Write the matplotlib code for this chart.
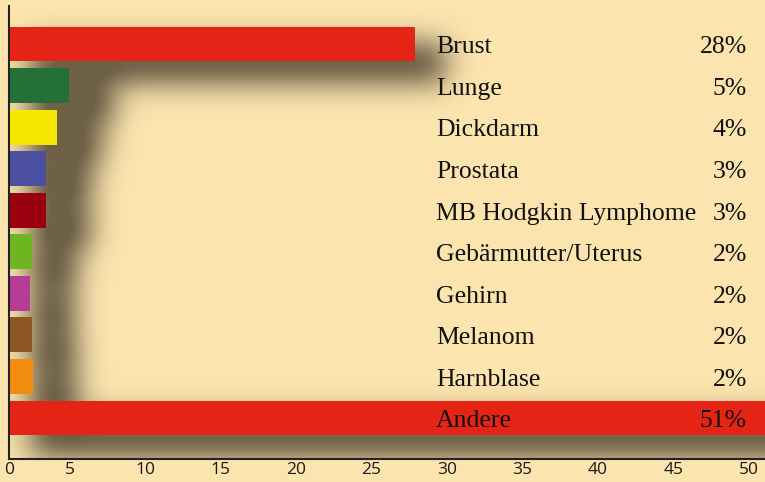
import numpy as np
import matplotlib
matplotlib.use("Agg")
import matplotlib.pyplot as plt
from matplotlib.transforms import blended_transform_factory

categories = ["Brust", "Lunge", "Dickdarm", "Prostata", "MB Hodgkin Lymphome",
              "Gebärmutter/Uterus", "Gehirn", "Melanom", "Harnblase", "Andere"]
values = [27.85, 4.95, 4.15, 3.4, 3.4, 2.5, 2.35, 2.5, 2.6, 51.2]
pct_labels = ["28%", "5%", "4%", "3%", "3%", "2%", "2%", "2%", "2%", "51%"]
colors = ["#E52416", "#257037", "#F5E800", "#4B4FA0", "#9A000E",
          "#6DB621", "#B63D96", "#8C5723", "#F28C0E", "#E52416"]
tick_pos = [1, 5, 10, 15, 20, 25, 30, 35, 40, 45, 50]
tick_labels = ["0", "5", "10", "15", "20", "25", "30", "35", "40", "45", "50"]

BG = "#FCE4AE"
W, H = 765, 482
fig = plt.figure(figsize=(W / 100, H / 100), dpi=100, facecolor=BG)
ax_left, ax_right, ax_top, ax_bot = 9, 765, 6, 459
ax = fig.add_axes([ax_left / W, 1 - ax_bot / H, (ax_right - ax_left) / W, (ax_bot - ax_top) / H])
ax.set_facecolor(BG)

x0, x1 = 0.98, 51.06
ytop, ybot = -0.914, 9.987
ax.set_xlim(x0, x1)
ax.set_ylim(ybot, ytop)

ypos = np.arange(len(categories))
bar_h = 0.84

# blurred drop shadow computed from the bars
pw, ph = ax_right - ax_left, ax_bot - ax_top
xs = x0 + (np.arange(pw) + 0.5) / pw * (x1 - x0)
ys = ytop + (np.arange(ph) + 0.5) / ph * (ybot - ytop)
ux = (x1 - x0) / pw
uy = (ybot - ytop) / ph
mask = np.zeros((ph, pw))
for y, v in zip(ypos, values):
    ext = 44 if v < 10 else 30
    mx = (xs >= x0 + 22 * ux) & (xs <= v + ext * ux)
    my = (ys >= y - bar_h / 2 + 18 * uy) & (ys <= y + bar_h / 2 + 20 * uy)
    mask[np.ix_(my, mx)] = 1.0
sigma = 15
k = np.arange(-3 * sigma, 3 * sigma + 1)
g = np.exp(-k ** 2 / (2 * sigma ** 2)); g /= g.sum()
pad = 3 * sigma
m = np.pad(mask, pad, mode="edge")
m = np.apply_along_axis(lambda r: np.convolve(r, g, mode="same"), 1, m)
m = np.apply_along_axis(lambda c: np.convolve(c, g, mode="same"), 0, m)
m = m[pad:-pad, pad:-pad]
rgba = np.zeros((ph, pw, 4))
rgba[..., 0] = 0.33
rgba[..., 1] = 0.29
rgba[..., 2] = 0.21
rgba[..., 3] = np.clip(m * 1.25, 0, 1) * 0.85
ax.imshow(rgba, extent=(x0, x1, ybot, ytop), aspect="auto", zorder=1, interpolation="bilinear")

ax.barh(ypos, values, height=bar_h, color=colors, zorder=2, left=0)

serif = ["Liberation Serif", "DejaVu Serif"]
tr = blended_transform_factory(ax.transAxes, ax.transData)
for y, name, p in zip(ypos, categories, pct_labels):
    ax.text(0.565, y + 0.08, name, transform=tr, ha="left", va="center",
            fontsize=18.5, family=serif, color="#111111", zorder=3)
    ax.text(0.976, y + 0.08, p, transform=tr, ha="right", va="center",
            fontsize=18.5, family=serif, color="#111111", zorder=3)

ax.set_xticks(tick_pos)
ax.set_xticklabels(tick_labels, family="Open Sans", fontsize=12.5, color="#1a1a1a")
ax.set_yticks([])
ax.tick_params(axis="x", length=0, pad=2)
for s in ["top", "right"]:
    ax.spines[s].set_visible(False)
for s in ["left", "bottom"]:
    ax.spines[s].set_color("#222222")
    ax.spines[s].set_linewidth(1.5)
    ax.spines[s].set_zorder(4)

fig.savefig("out.png", dpi=100, facecolor=BG)
